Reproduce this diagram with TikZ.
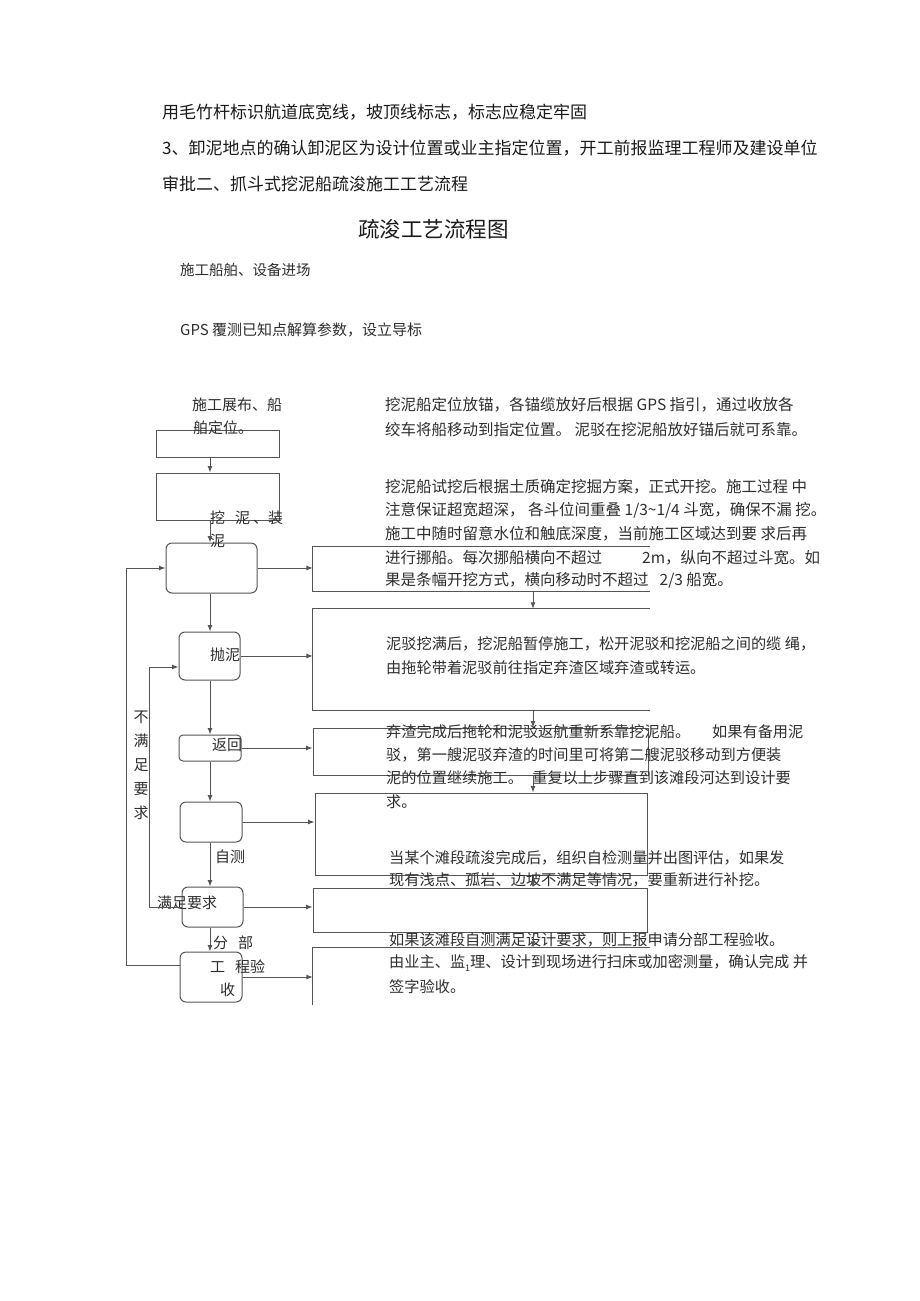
\documentclass[tikz,border=0pt]{standalone}
\usepackage{fontspec}
\setmainfont{Noto Sans CJK SC}
\usetikzlibrary{arrows.meta}
\definecolor{lc}{HTML}{555555}
\definecolor{tc}{HTML}{2E2E2E}
\definecolor{hc}{HTML}{1A1A1A}
\newcommand\fs[1]{\fontsize{#1pt}{#1pt}\selectfont}
\begin{document}
\begin{tikzpicture}[x=1pt,y=-1pt,
  ln/.style={draw=lc,line width=1pt},
  arr/.style={ln,-{Latex[length=6.5pt,width=5pt]}},
  sqbox/.style={ln,rectangle,inner sep=0pt},
  rbox/.style={ln,rectangle,rounded corners=6pt,inner sep=0pt},
  ghost/.style={rectangle,inner sep=0pt},
  head/.style={anchor=west,inner sep=0pt,text=hc,font=\fs{17}},
  rt/.style={anchor=west,inner sep=0pt,text=tc,font=\fs{15.5}},
  rs/.style={anchor=west,inner sep=0pt,text=tc,font=\fs{15.2}},
  lt/.style={anchor=west,inner sep=0pt,text=tc,font=\fs{15}},
]
\useasboundingbox (0,0) rectangle (920,1301);
\fill[white] (0,0) rectangle (920,1301);

% ---------- heading text ----------
\node[head] (h1) at (162,112) {用毛竹杆标识航道底宽线，坡顶线标志，标志应稳定牢固};
\node[head] (h2) at (162,148) {3、卸泥地点的确认卸泥区为设计位置或业主指定位置，开工前报监理工程师及建设单位};
\node[head] (h3) at (162,184) {审批二、抓斗式挖泥船疏浚施工工艺流程};
\node[anchor=west,inner sep=0pt,text=hc,font=\fs{21.5}] (title) at (358,229) {疏浚工艺流程图};
\node[lt,font=\fs{14.5}] (s1) at (180,270) {施工船舶、设备进场};
\node[lt,font=\fs{15}] (s2) at (180,330) {GPS 覆测已知点解算参数，设立导标};

% ---------- left column boxes ----------
\node[sqbox,minimum width=123pt,minimum height=27pt] (b1) at (217.5,443.5) {};
\node[sqbox,minimum width=123pt,minimum height=47pt] (b2) at (217.5,496.5) {};
\node[rbox,minimum width=91pt,minimum height=50pt] (b3) at (211.5,568) {};
\node[rbox,minimum width=61pt,minimum height=48pt] (b4) at (209.5,656) {};
\node[rbox,minimum width=62pt,minimum height=26pt,rounded corners=4pt] (b5) at (210,748) {};
\node[rbox,minimum width=62pt,minimum height=40pt] (b6) at (211,822) {};
\node[rbox,minimum width=61pt,minimum height=40pt] (b7) at (212.5,907) {};
\node[rbox,minimum width=62pt,minimum height=50pt] (b8) at (211,977) {};

% ---------- left column labels ----------
\node[lt] (la) at (192,405) {施工展布、船};
\node[lt] (lb) at (193,428) {舶定位。};
\node[lt] (lc1) at (210,518) {挖\hspace{10pt}泥\hspace{3pt}、装};
\node[lt] (lc2) at (210,541) {泥};
\node[lt] (ld) at (210,655) {抛泥};
\node[lt] (le) at (212,745) {返回};
\node[lt] (lf) at (215,857) {自测};
\node[lt] (lg) at (157,903) {满足要求};
\node[lt] (lh1) at (213,943) {分\hspace{10pt}部};
\node[lt] (lh2) at (210,967) {工\hspace{10pt}程验};
\node[lt] (lh3) at (220,990) {收};
\node[inner sep=0pt,text=tc,align=center,font={\fontsize{15pt}{24pt}\selectfont}] (nm) at (141,765) {不\\满\\足\\要\\求};

% ---------- right column frames ----------
\node[ghost,minimum width=337pt,minimum height=44pt] (r1) at (481.5,569) {};
\node[ghost,minimum width=337pt,minimum height=101pt] (r2) at (481.5,659.5) {};
\node[sqbox,minimum width=335pt,minimum height=47pt] (r3) at (480.5,751.5) {};
\node[sqbox,minimum width=332pt,minimum height=82pt] (r4) at (481,834) {};
\node[sqbox,minimum width=334pt,minimum height=44pt] (r5) at (480,910) {};
\node[ghost,minimum width=337pt,minimum height=57pt] (r6) at (481.5,976.5) {};
\draw[ln] (r1.north east) -- (r1.north west) -- (r1.south west) -- (r1.south east);
\draw[ln] (r2.north east) -- (r2.north west) -- (r2.south west) -- (r2.south east);
\draw[ln] (r6.north east) -- (r6.north west) -- (r6.south west);

% ---------- right column text ----------
\node[rt] (ta1) at (385,405) {挖泥船定位放锚，各锚缆放好后根据 GPS 指引，通过收放各};
\node[rt] (ta2) at (385,430) {绞车将船移动到指定位置。 泥驳在挖泥船放好锚后就可系靠。};
\node[rt] (tb1) at (385,487) {挖泥船试挖后根据土质确定挖掘方案，正式开挖。施工过程 中};
\node[rt] (tb2) at (385,510) {注意保证超宽超深， 各斗位间重叠 1/3\textasciitilde 1/4 斗宽，确保不漏 挖。};
\node[rt] (tb3) at (385,534) {施工中随时留意水位和触底深度，当前施工区域达到要 求后再};
\node[rt] (tb4) at (385,558) {进行挪船。每次挪船横向不超过\hspace{40pt}2m，纵向不超过斗宽。如};
\node[rt] (tb5) at (385,580) {果是条幅开挖方式，横向移动时不超过\hspace{11pt}2/3 船宽。};
\node[rs] (tc1) at (386,644) {泥驳挖满后，挖泥船暂停施工，松开泥驳和挖泥船之间的缆 绳，};
\node[rs] (tc2) at (386,668) {由拖轮带着泥驳前往指定弃渣区域弃渣或转运。};
\node[rs] (td1) at (386,732) {弃渣完成后拖轮和泥驳返航重新系靠挖泥船。\hspace{22pt}如果有备用泥};
\node[rs] (td2) at (386,755) {驳，第一艘泥驳弃渣的时间里可将第二艘泥驳移动到方便装};
\node[rs] (td3) at (386,778) {泥的位置继续施工。 \hspace{6pt}重复以上步骤直到该滩段河达到设计要};
\node[rs] (td4) at (386,802) {求。};
\node[rs] (te1) at (389,858) {当某个滩段疏浚完成后，组织自检测量并出图评估，如果发};
\node[rs] (te2) at (389,880) {现有浅点、孤岩、边坡不满足等情况，要重新进行补挖。};
\node[rs] (tf1) at (389,940) {如果该滩段自测满足设计要求，则上报申请分部工程验收。};
\node[rs] (tf2) at (389,963) {由业主、监\raisebox{-4pt}{\fs{9}1}理、设计到现场进行扫床或加密测量，确认完成 并};
\node[rs] (tf3) at (389,987) {签字验收。};

% ---------- connectors ----------
\coordinate (ax) at (210,0);
\coordinate (rx) at (533,0);
\draw[arr] (b1.south -| ax) -- (b2.north -| ax);
\draw[arr] (b2.south -| ax) -- (b3.north -| ax);
\draw[arr] (b3.south -| ax) -- (b4.north -| ax);
\draw[arr] (b4.south -| ax) -- (b5.north -| ax);
\draw[arr] (b5.south -| ax) -- (b6.north -| ax);
\draw[arr] (b6.south -| ax) -- (b7.north -| ax);
\draw[arr] (b7.south -| ax) -- (b8.north -| ax);

\draw[arr] (b3.east) -- (r1.west |- b3.east);
\draw[arr] (b4.east) -- (r2.west |- b4.east);
\draw[arr] (b5.east) -- (r3.west |- b5.east);
\draw[arr] (b6.east) -- (r4.west |- b6.east);
\draw[arr] (b7.east) -- (r5.west |- b7.east);
\draw[arr] (b8.east) -- (r6.west |- b8.east);

\draw[arr] (r1.south -| rx) -- (r2.north -| rx);
\draw[arr] (r2.south -| rx) -- (r3.north -| rx);
\draw[arr] (r3.south -| rx) -- (r4.north -| rx);
\draw[arr] (r4.south -| rx) -- (r5.north -| rx);
\draw[arr] (r5.south -| rx) -- (r6.north -| rx);

% loops
\coordinate (l1) at (149,907);
\coordinate (l2) at (149,667);
\draw[arr] (b7.west) -- (l1) -- (l2) -- (b4.west |- l2);
\coordinate (o1) at (126,965);
\coordinate (o2) at (126,568);
\draw[arr] (b8.west |- o1) -- (o1) -- (o2) -- (b3.west);
\end{tikzpicture}
\end{document}
